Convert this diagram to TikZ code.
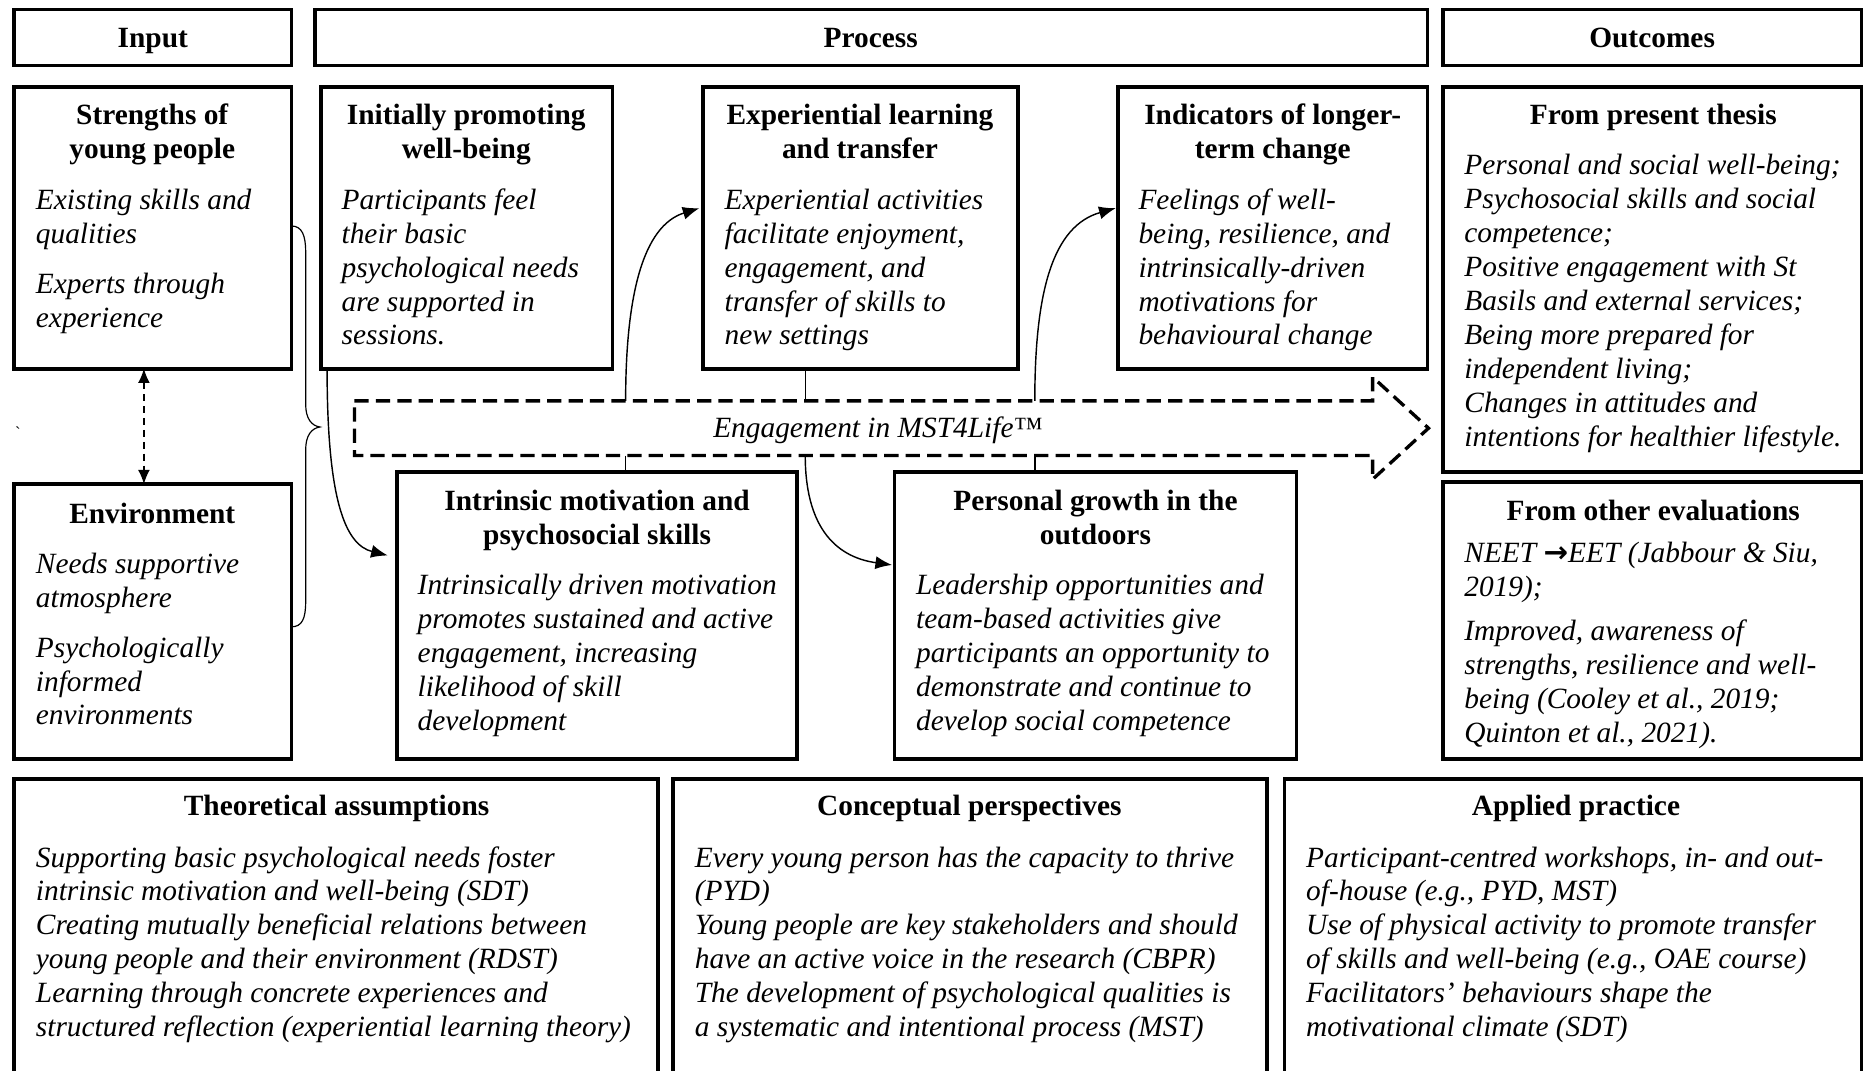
\documentclass[tikz,border=0pt]{standalone}
\usepackage{fontspec}
\setmainfont{Liberation Serif}
\newfontfamily\arrowfont{DejaVu Sans}
\usetikzlibrary{arrows.meta,calc}

\begin{document}
\begin{tikzpicture}[x=1pt,y=-1pt,
  box/.style={draw, line width=3pt, inner sep=0pt, outer sep=0pt, anchor=north west},
  % multi-line texts are placed by the baseline of their last line
  hd/.style={font=\fontsize{24.7}{28.5}\selectfont\bfseries, anchor=base, inner sep=0pt, align=center},
  bd/.style={font=\fontsize{24.7}{28.5}\selectfont\itshape, anchor=base west, inner sep=0pt, align=left},
  link/.style={line width=1.2pt},
  arr/.style={link, -{Latex[length=14pt,width=11pt]}},
  twoway/.style={link, dash pattern=on 6pt off 4pt, {Latex[length=12pt,width=10pt]}-{Latex[length=12pt,width=10pt]}},
  flow/.style={line width=2.8pt, dash pattern=on 12pt off 6pt},
]
\useasboundingbox (0,0) rectangle (1568,900);
\clip (0,0) rectangle (1568,900);

% column headers
\node[box, minimum width=233, minimum height=47] (hin) at (12,8) {};
\node[box, minimum width=935, minimum height=47] (hproc) at (265,8) {};
\node[box, minimum width=352, minimum height=47] (hout) at (1213,8) {};
\node[hd] (thin) at (128.5,40) {Input};
\node[hd] (thproc) at (732,40) {Process};
\node[hd] (thout) at (1389,40) {Outcomes};

% upper row
\node[box, minimum width=233, minimum height=237] (str) at (12,73) {};
\node[box, minimum width=245, minimum height=237] (init) at (270,73) {};
\node[box, minimum width=265, minimum height=237] (expl) at (591,73) {};
\node[box, minimum width=260, minimum height=237] (ind) at (940,73) {};
\node[box, minimum width=352, minimum height=324] (pres) at (1213,73) {};

% lower row
\node[box, minimum width=233, minimum height=231] (env) at (12,407) {};
\node[box, minimum width=336, minimum height=241] (intr) at (334,397) {};
\node[box, minimum width=338, minimum height=241] (pg) at (752,397) {};
\node[box, minimum width=352, minimum height=233] (oth) at (1213,405) {};

% foundations
\node[box, minimum width=541, minimum height=265] (theo) at (12,655) {};
\node[box, minimum width=499, minimum height=265] (conc) at (566,655) {};
\node[box, minimum width=485, minimum height=265] (appl) at (1080,655) {};

% texts of the upper row
\node[hd] (tstr) at (128,133) {Strengths of\\young people};
\node[bd] (bstr) at (30,275) {Existing skills and\\qualities\\[13.5pt]Experts through\\experience};
\node[hd] (tinit) at (392,133) {Initially promoting\\well-being};
\node[bd] (binit) at (287,290) {Participants feel\\their basic\\psychological needs\\are supported in\\sessions.};
\node[hd] (texpl) at (723,133) {Experiential learning\\and transfer};
\node[bd] (bexpl) at (609,290) {Experiential activities\\facilitate enjoyment,\\engagement, and\\transfer of skills to\\new settings};
\node[hd] (tind) at (1070,133) {Indicators of longer-\\term change};
\node[bd] (bind) at (957,290) {Feelings of well-\\being, resilience, and\\intrinsically-driven\\motivations for\\behavioural change};
\node[hd] (tpres) at (1390,105) {From present thesis};
\node[bd] (bpres) at (1231,375) {Personal and social well-being;\\Psychosocial skills and social\\competence;\\Positive engagement with St\\Basils and external services;\\Being more prepared for\\independent living;\\Changes in attitudes and\\intentions for healthier lifestyle.};

% texts of the lower row
\node[hd] (tenv) at (128,440) {Environment};
\node[bd] (benv) at (30,609.5) {Needs supportive\\atmosphere\\[13.5pt]Psychologically\\informed\\environments};
\node[hd] (tintr) at (502,458) {Intrinsic motivation and\\psychosocial skills};
\node[bd] (bintr) at (351,614) {Intrinsically driven motivation\\promotes sustained and active\\engagement, increasing\\likelihood of skill\\development};
\node[hd] (tpg) at (921,458) {Personal growth in the\\outdoors};
\node[bd] (bpg) at (770,614) {Leadership opportunities and\\team-based activities give\\participants an opportunity to\\demonstrate and continue to\\develop social competence};
\node[hd] (toth) at (1390,438) {From other evaluations};
\node[bd] (both) at (1231,624) {NEET {\arrowfont\bfseries\upshape →}EET (Jabbour \& Siu,\\2019);\\[8.5pt]Improved, awareness of\\strengths, resilience and well-\\being (Cooley et al., 2019;\\Quinton et al., 2021).};

% texts of the foundations
\node[hd] (ttheo) at (283,686) {Theoretical assumptions};
\node[bd] (btheo) at (30,871.5) {Supporting basic psychological needs foster\\intrinsic motivation and well-being (SDT)\\Creating mutually beneficial relations between\\young people and their environment (RDST)\\Learning through concrete experiences and\\structured reflection (experiential learning theory)};
\node[hd] (tconc) at (815,686) {Conceptual perspectives};
\node[bd] (bconc) at (584,871.5) {Every young person has the capacity to thrive\\(PYD)\\Young people are key stakeholders and should\\have an active voice in the research (CBPR)\\The development of psychological qualities is\\a systematic and intentional process (MST)};
\node[hd] (tappl) at (1325,686) {Applied practice};
\node[bd] (bappl) at (1098,871.5) {Participant-centred workshops, in- and out-\\of-house (e.g., PYD, MST)\\Use of physical activity to promote transfer\\of skills and well-being (e.g., OAE course)\\Facilitators’ behaviours shape the\\motivational climate (SDT)};

% engagement arrow
\node[inner sep=0pt, outer sep=0pt, minimum width=856, minimum height=46, anchor=north west] (shaft) at (298,337) {};
\coordinate (tip) at (1201,360);
\draw[flow] (shaft.north west) -- (shaft.north east) -- ++(0,-20) -- (tip)
  -- ($(shaft.south east)+(0,20)$) -- (shaft.south east) -- (shaft.south west) -- cycle;
\node[font=\fontsize{24.7}{28.5}\selectfont\itshape, anchor=base, inner sep=0pt] (eng) at (738,368) {Engagement in MST4Life™};
\node[font=\fontsize{14}{14}\selectfont, inner sep=0pt] (tick) at (15,364) {\textasciigrave};

% input links
\draw[twoway] ($(str.south west)+(109,0)$) -- ($(env.north west)+(109,0)$);
\draw[link, line width=1pt] ($(str.north east)+(0,117)$) .. controls (254,190) and (257,198) .. (257,212)
  -- (257,340) .. controls (257,352) and (262,358) .. (269,359)
  .. controls (262,360) and (257,366) .. (257,378)
  -- (257,506) .. controls (257,520) and (254,527) .. ($(env.north east)+(0,120)$);

% process links
\draw[arr] ($(init.south west)+(5,0)$) .. controls (275,420) and (290,458) .. ($(intr.north west)+(-8,70)$);
\draw[arr] ($(shaft.north west)+(228,0)$) .. controls (526,250) and (540,190) .. ($(expl.north west)+(-3,102)$);
\draw[link] ($(expl.south west)+(86,0)$) -- ($(shaft.north west)+(379,0)$);
\draw[link] ($(shaft.south west)+(228,0)$) -- ($(intr.north west)+(192,0)$);
\draw[arr] ($(shaft.south west)+(379,0)$) .. controls (677,440) and (700,468) .. ($(pg.north west)+(-2,78)$);
\draw[arr] ($(shaft.north west)+(572,0)$) .. controls (870,245) and (885,190) .. ($(ind.north west)+(-2,102)$);
\draw[link] ($(shaft.south west)+(572,0)$) -- ($(pg.north west)+(118,0)$);
\end{tikzpicture}
\end{document}
